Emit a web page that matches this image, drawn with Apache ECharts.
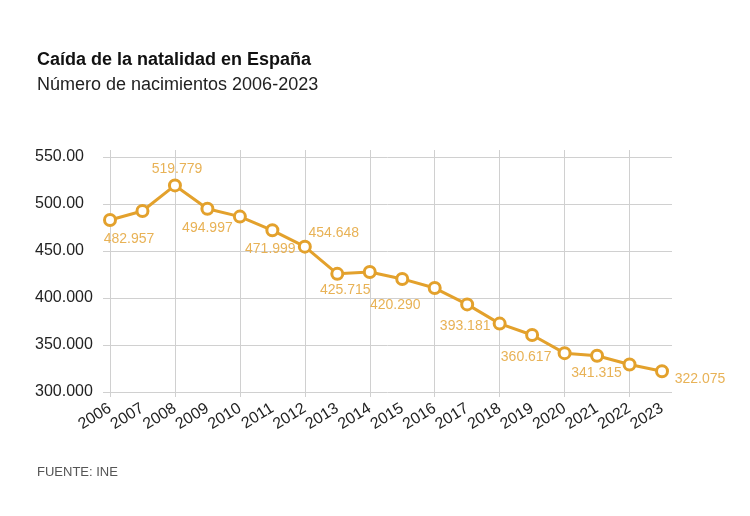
<!DOCTYPE html>
<html>
<head>
<meta charset="utf-8">
<script src="https://cdn.jsdelivr.net/npm/echarts@6/dist/echarts.min.js"></script>
<style>
html,body{margin:0;padding:0;background:#fff;}
#chart{width:750px;height:516px;}
</style>
</head>
<body>
<div id="chart"></div>
<script>
var years = ['2006','2007','2008','2009','2010','2011','2012','2013','2014','2015','2016','2017','2018','2019','2020','2021','2022','2023'];
var births = [482957,492527,519779,494997,486575,471999,454648,425715,427595,420290,410583,393181,372777,360617,341315,338532,329251,322075];
var yTickLabels = ['300.000','350.000','400.000','450.00','500.00','550.00'];
var labeledYears = ['2006','2008','2009','2011','2012','2013','2015','2017','2019','2020','2023'];

// label placement (style only), offsets in px relative to the point
var labelOffsets = {
  '2006':[19,19],'2008':[2,-16],'2009':[0,19],'2011':[-2,19],'2012':[29,-13],
  '2013':[8,16],'2015':[-7,26],'2017':[-2,22],'2019':[-6,22],'2020':[32,20],'2023':[38,8]
};

function fmt(v){
  var s = String(v);
  return s.replace(/\B(?=(\d{3})+(?!\d))/g,'.');
}

var FONT = '"Liberation Sans", Arial, sans-serif';
var LINE = '#e3a12c';
var LABEL = '#e8b256';
var GRID = '#d0d0d0';

var seriesData = years.map(function(y,i){
  var item = {value: births[i]};
  if (labeledYears.indexOf(y) >= 0) {
    item.label = {show:true, position:'inside', offset: labelOffsets[y]};
  }
  return item;
});

var chart = echarts.init(document.getElementById('chart'));
chart.setOption({
  backgroundColor:'#fff',
  animation:false,
  title:[
    {text:'Caída de la natalidad en España', left:37, top:51, padding:0,
     textStyle:{fontFamily:FONT, fontSize:18, fontWeight:'bold', color:'#111'}},
    {text:'Número de nacimientos 2006-2023', left:37, top:76, padding:0,
     textStyle:{fontFamily:FONT, fontSize:18, fontWeight:'normal', color:'#222'}},
    {text:'FUENTE: INE', left:37, top:466, padding:0,
     textStyle:{fontFamily:FONT, fontSize:13, fontWeight:'normal', color:'#555'}}
  ],
  grid:[
    {left:110, right:88, top:157, bottom:124},
    {left:110, right:88, top:150, bottom:119},
    {left:103, right:78, top:157, bottom:124}
  ],
  xAxis:[
    {gridIndex:0, type:'category', data:years, boundaryGap:false,
     axisLine:{show:false}, axisTick:{show:false}, splitLine:{show:false},
     axisLabel:{interval:0, rotate:32, margin:15, fontFamily:FONT, fontSize:16, color:'#222'}},
    {gridIndex:1, type:'category', data:years, boundaryGap:false,
     axisLine:{show:false}, axisTick:{show:false}, axisLabel:{show:false},
     splitLine:{show:true, interval:1, lineStyle:{color:GRID, width:1}}},
    {gridIndex:2, type:'value', min:0, max:1, show:false}
  ],
  yAxis:[
    {gridIndex:0, type:'value', min:300000, max:550000, interval:50000,
     axisLine:{show:false}, axisTick:{show:false}, splitLine:{show:false},
     axisLabel:{align:'left', margin:75, fontFamily:FONT, fontSize:16, color:'#222',
       formatter:function(v){ var i = Math.round((v-300000)/50000); return yTickLabels[i]; }}},
    {gridIndex:1, type:'value', min:0, max:1, show:false},
    {gridIndex:2, type:'value', min:300000, max:550000, interval:50000,
     axisLine:{show:false}, axisTick:{show:false}, axisLabel:{show:false},
     splitLine:{show:true, lineStyle:{color:GRID, width:1}}}
  ],
  series:[{
    type:'line', xAxisIndex:0, yAxisIndex:0, data:seriesData,
    symbol:'circle', symbolSize:11, showAllSymbol:true,
    lineStyle:{color:LINE, width:3},
    itemStyle:{color:'#fff', borderColor:LINE, borderWidth:3},
    label:{show:false, fontFamily:FONT, fontSize:14, color:LABEL,
      formatter:function(p){ return fmt(p.value); }},
    z:5
  }]
});
</script>
</body>
</html>
